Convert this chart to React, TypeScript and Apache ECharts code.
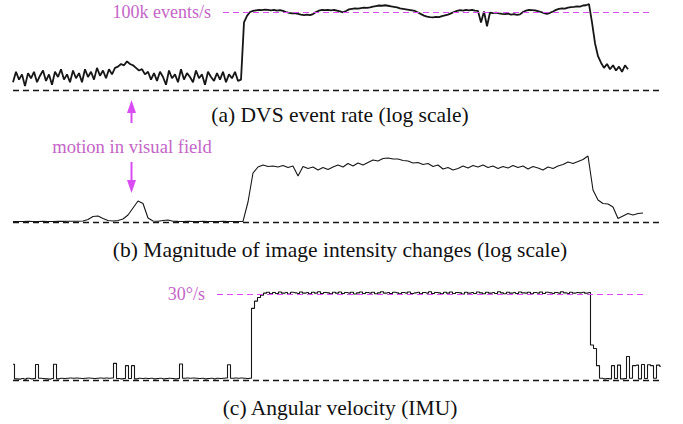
import React, { useEffect, useRef } from "react";
import * as echarts from "echarts";

// Panel (a): DVS event rate, log10(events/s), one sample every 3 time units
const rateStep = 3;
const eventRate = [
  2.3, 2.7, 2.4, 2.6, 2.15, 2.65, 2.45, 2.7, 2.3, 2.55,
  2.75, 2.35, 2.6, 2.2, 2.7, 2.5, 2.8, 2.4, 2.6, 2.3,
  2.75, 2.45, 2.65, 2.3, 2.8, 2.5, 2.7, 2.4, 2.85, 2.55,
  2.75, 2.45, 2.8, 2.6, 2.85, 2.9, 3.0, 2.95, 3.1, 3.0,
  2.95, 2.85, 2.75, 2.8, 2.6, 2.7, 2.4, 2.65, 2.35, 2.7,
  2.5, 2.2, 2.75, 2.45, 2.6, 2.3, 2.8, 2.4, 2.65, 2.5,
  2.3, 2.75, 2.45, 2.6, 2.2, 2.7, 2.5, 2.35, 2.65, 2.4,
  2.7, 2.3, 2.6, 2.45, 2.7, 2.35, 2.4, 4.6, 4.85, 5.0,
  5.04, 5.06, 5.08, 5.07, 5.09, 5.08, 5.06, 5.08, 5.05, 5.07,
  5.04, 5.0, 4.97, 4.95, 4.96, 4.93, 4.9, 4.88, 4.9, 4.88,
  4.92, 5.0, 5.05, 5.08, 5.07, 5.08, 5.06, 5.08, 5.05, 5.02,
  4.99, 5.04, 5.1, 5.12, 5.14, 5.13, 5.15, 5.17, 5.16, 5.18,
  5.21, 5.23, 5.25, 5.24, 5.26, 5.24, 5.22, 5.2, 5.18, 5.14,
  5.12, 5.1, 5.08, 5.06, 5.04, 4.98, 4.92, 4.86, 4.82, 4.8,
  4.79, 4.81, 4.8, 4.84, 4.87, 4.9, 4.95, 5.0, 5.04, 5.07,
  5.05, 5.08, 5.06, 5.08, 5.05, 5.04, 4.6, 5.02, 4.45, 4.98,
  4.96, 4.98, 4.95, 4.93, 4.92, 4.94, 4.9, 4.92, 4.89, 4.91,
  5.0, 5.05, 5.08, 5.07, 5.06, 5.03, 5.0, 4.96, 4.93, 4.97,
  5.02, 5.08, 5.12, 5.14, 5.13, 5.17, 5.19, 5.2, 5.22, 5.21,
  5.25, 5.26, 5.3, 4.6, 3.8, 3.3, 3.05, 2.85, 3.0, 2.8,
  2.95, 2.75, 2.9, 2.7, 2.95, 2.8,
];

// Panel (b): magnitude of image intensity changes (log units), every 5 time units
const magStep = 5;
const intensityChange = [
  0.05, 0.05, 0.05, 0.06, 0.05, 0.05, 0.06, 0.05, 0.05, 0.06,
  0.06, 0.07, 0.08, 0.07, 0.1, 0.25, 0.55, 0.6, 0.35, 0.15,
  0.1, 0.15, 0.3, 0.7, 1.4, 2.1, 1.85, 0.4, 0.1, 0.08,
  0.15, 0.2, 0.08, 0.06, 0.05, 0.06, 0.05, 0.05, 0.06, 0.05,
  0.05, 0.05, 0.06, 0.05, 0.05, 0.05, 0.06, 2.0, 4.9, 5.5,
  5.7, 5.55, 5.6, 5.5, 5.65, 5.45, 5.6, 4.6, 5.55, 5.35,
  5.5, 5.2, 5.45, 5.25, 5.5, 5.7, 5.5, 5.85, 5.6, 5.9,
  5.7, 5.95, 6.2, 6.1, 6.35, 6.4, 6.3, 6.3, 6.15, 6.1,
  5.9, 5.95, 5.75, 5.85, 5.55, 5.7, 5.3, 5.45, 5.2, 5.35,
  5.6, 5.4, 5.65, 5.5, 5.7, 5.45, 5.6, 5.35, 5.55, 5.4,
  5.65, 5.45, 5.6, 5.3, 5.55, 5.4, 5.2, 5.5, 5.35, 5.6,
  5.75, 6.0, 5.85, 6.05, 6.25, 6.6, 3.2, 2.2, 1.85, 1.8,
  1.5, 0.35, 0.6, 0.85, 0.7, 0.85, 0.9,
];

// Panel (c): angular velocity from IMU (deg/s), every 3 time units
const gyroStep = 3;
const angularVelocity = [
  5.5, 0.4, 0.3, 0.5, 0.3, 0.6, 0.4, 0.5, 5.4, 0.6,
  0.5, 0.4, 0.3, 0.5, 5.5, 0.4, 0.6, 0.5, 0.6, 0.7,
  0.6, 0.7, 0.6, 0.5, 0.6, 0.7, 0.6, 0.5, 0.6, 0.7,
  0.6, 0.7, 0.6, 0.7, 5.8, 0.5, 0.4, 0.5, 5.0, 0.5,
  5.0, 0.4, 0.6, 0.5, 0.6, 0.5, 0.6, 0.4, 0.5, 0.6,
  0.4, 0.5, 0.6, 0.5, 0.4, 0.5, 5.6, 0.6, 0.7, 0.6,
  0.7, 0.6, 0.5, 0.6, 0.4, 0.5, 0.6, 0.4, 0.6, 0.5,
  0.6, 0.7, 5.3, 0.6, 0.7, 0.6, 0.7, 0.6, 0.5, 0.6,
  25.0, 27.5, 28.8, 29.6, 30.3, 30.6, 30.1, 30.5, 30.2, 30.7,
  30.3, 30.5, 30.0, 30.6, 30.4, 30.2, 30.7, 30.3, 30.5, 30.1,
  30.6, 30.3, 30.8, 30.2, 30.5, 30.4, 30.1, 30.6, 30.3, 30.7,
  30.2, 30.5, 30.3, 30.6, 30.0, 30.4, 30.7, 30.2, 30.5, 30.3,
  30.6, 30.1, 30.4, 30.8, 30.3, 30.5, 30.2, 30.6, 30.4, 30.1,
  30.5, 30.3, 30.7, 30.2, 30.4, 30.6, 30.1, 30.5, 30.3, 30.8,
  30.2, 30.5, 30.4, 30.1, 30.6, 30.3, 30.7, 30.2, 30.5, 30.4,
  30.0, 30.6, 30.3, 30.5, 30.2, 30.7, 30.4, 30.1, 30.6, 30.3,
  30.5, 30.2, 30.8, 30.4, 30.1, 30.6, 30.3, 30.5, 30.2, 30.7,
  30.4, 30.3, 30.6, 30.1, 30.5, 30.3, 30.7, 30.2, 30.6, 30.4,
  30.2, 30.5, 30.3, 30.8, 30.4, 30.2, 30.6, 30.3, 30.5, 30.4,
  30.6, 30.3, 30.5, 12.2, 11.0, 5.0, 0.6, 0.4, 0.5, 0.4,
  5.0, 0.5, 5.2, 0.4, 0.5, 8.2, 0.6, 5.0, 5.2, 0.4,
  5.4, 0.5, 5.3, 5.0, 0.6, 5.2, 4.8,
];

const captions = [
  "(a) DVS event rate (log scale)",
  "(b) Magnitude of image intensity changes (log scale)",
  "(c) Angular velocity (IMU)",
];
const refLabels = ["100k events/s", "30°/s"];
const refValues = [5, 30]; // log10(100k), 30 deg/s
const annotation = "motion in visual field";

const SERIF = "'Liberation Serif', 'Times New Roman', serif";
const MAGENTA = "#d94cf3";
const TEXT_MAGENTA = "#c466c8";
const INK = "#161616";

const toPairs = (arr: number[], step: number) => arr.map((v, i) => [i * step, v]);

const baseLine = (x1: number, y: number) => [
  { coord: [0, y], lineStyle: { color: INK, width: 1.3, type: [6, 4] }, label: { show: false } },
  { coord: [x1, y] },
];

const refLine = (x0: number, x1: number, y: number, text: string) => [
  {
    coord: [x0, y],
    lineStyle: { color: MAGENTA, width: 1.1, type: [6, 4] },
    label: {
      show: true,
      position: "start",
      distance: 12,
      formatter: text,
      color: TEXT_MAGENTA,
      fontFamily: SERIF,
      fontSize: 18,
    },
  },
  { coord: [x1, y] },
];

export default function App() {
  const ref = useRef<HTMLDivElement>(null);
  useEffect(() => {
    if (!ref.current) return;
    const chart = echarts.init(ref.current, null, { renderer: "svg" });
    const xAxisBase = { type: "value", min: 0, max: 650, show: false };
    const option = {
      animation: false,
      backgroundColor: "#ffffff",
      grid: [
        { left: 13, width: 650, top: 1.6, height: 88.4 },
        { left: 13, width: 650, top: 150, height: 72 },
        { left: 13, width: 650, top: 285.4, height: 94.6 },
      ],
      xAxis: [
        { ...xAxisBase, gridIndex: 0 },
        { ...xAxisBase, gridIndex: 1 },
        { ...xAxisBase, gridIndex: 2 },
      ],
      yAxis: [
        { type: "value", gridIndex: 0, min: 2, max: 5.4, show: false },
        { type: "value", gridIndex: 1, min: 0, max: 7.2, show: false },
        { type: "value", gridIndex: 2, min: 0, max: 33, show: false },
      ],
      series: [
        {
          type: "line",
          xAxisIndex: 0,
          yAxisIndex: 0,
          data: toPairs(eventRate, rateStep),
          showSymbol: false,
          lineStyle: { color: INK, width: 1.8 },
          markLine: {
            silent: true,
            symbol: ["none", "none"],
            data: [baseLine(647, 2), refLine(210, 639, refValues[0], refLabels[0])],
          },
        },
        {
          type: "line",
          xAxisIndex: 1,
          yAxisIndex: 1,
          data: toPairs(intensityChange, magStep),
          showSymbol: false,
          lineStyle: { color: INK, width: 1.1 },
          markLine: {
            silent: true,
            symbol: ["none", "none"],
            data: [baseLine(647, 0)],
          },
        },
        {
          type: "line",
          xAxisIndex: 2,
          yAxisIndex: 2,
          data: toPairs(angularVelocity, gyroStep),
          step: "middle",
          showSymbol: false,
          lineStyle: { color: INK, width: 1.1 },
          markLine: {
            silent: true,
            symbol: ["none", "none"],
            data: [baseLine(650, 0), refLine(204, 630, refValues[1], refLabels[1])],
          },
        },
      ],
      graphic: [
        ...captions.map((t, i) => ({
          type: "text",
          x: 340,
          y: [115, 250, 408][i],
          style: {
            text: t,
            fill: "#111",
            font: `21.5px ${SERIF}`,
            textAlign: "center",
            textVerticalAlign: "middle",
          },
        })),
        {
          type: "text",
          x: 132,
          y: 146,
          style: {
            text: annotation,
            fill: TEXT_MAGENTA,
            font: `18.6px ${SERIF}`,
            textAlign: "center",
            textVerticalAlign: "middle",
          },
        },
        { type: "line", shape: { x1: 131.5, y1: 123, x2: 131.5, y2: 108 }, style: { stroke: MAGENTA, lineWidth: 2 } },
        { type: "polygon", shape: { points: [[131.5, 100], [127, 113], [136, 113]] }, style: { fill: MAGENTA } },
        { type: "line", shape: { x1: 131.5, y1: 162, x2: 131.5, y2: 185 }, style: { stroke: MAGENTA, lineWidth: 2 } },
        { type: "polygon", shape: { points: [[131.5, 193], [127, 180], [136, 180]] }, style: { fill: MAGENTA } },
      ],
    };
    chart.setOption(option as any);
    return () => chart.dispose();
  }, []);
  return (
    <div
      ref={ref}
      style={{ position: "absolute", left: 0, top: 0, width: 683, height: 424 }}
    />
  );
}
